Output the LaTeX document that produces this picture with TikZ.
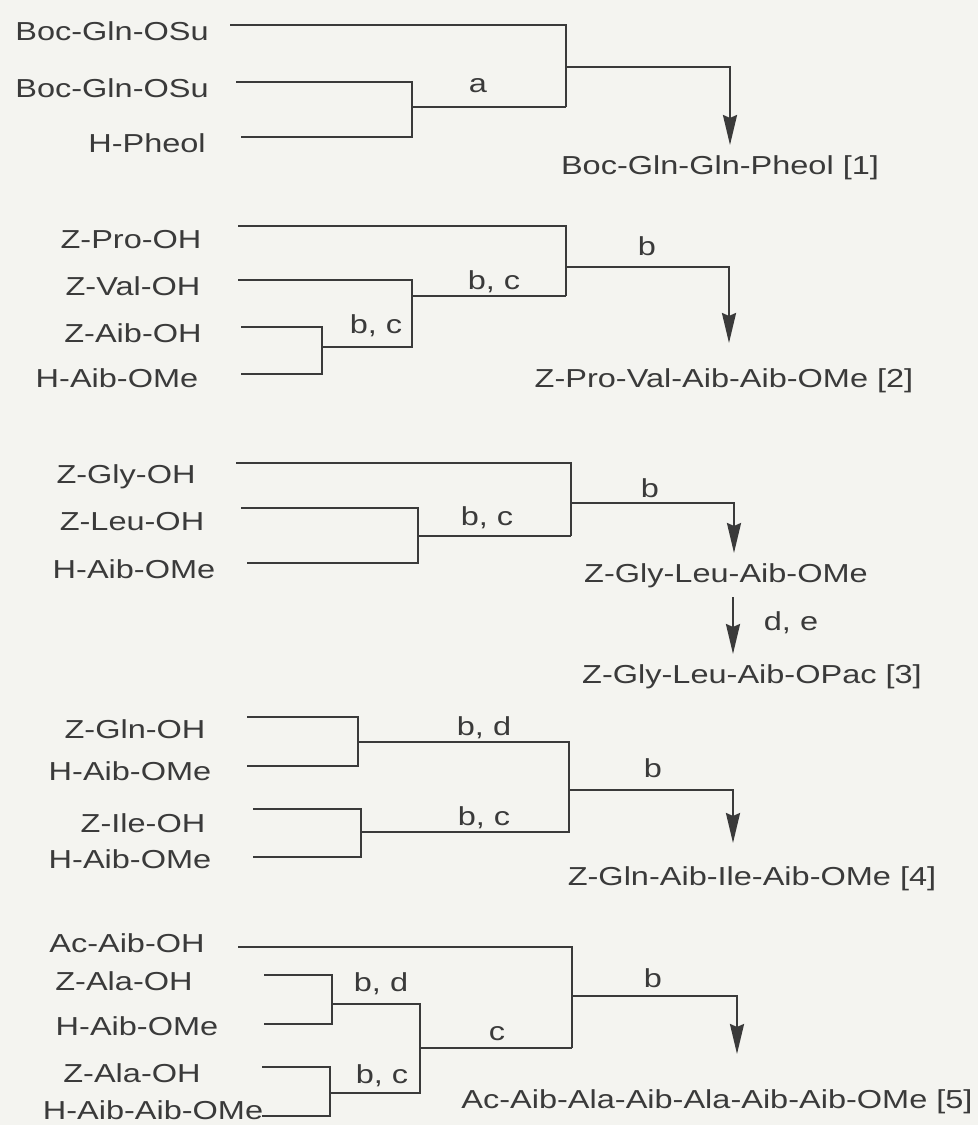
\documentclass[tikz,border=0pt]{standalone}
\usepackage{fontspec}
\setmainfont{Liberation Sans}[FakeStretch=1.25]
\usetikzlibrary{arrows.meta}
\definecolor{bg}{RGB}{244,244,240}
\definecolor{ink}{RGB}{58,58,58}
\tikzset{
  txt/.style={inner sep=0pt, anchor=base, text=ink, font=\fontsize{26}{30}\selectfont},
  lbl/.style={txt},
  ln/.style={draw=ink, line width=2.4pt},
  arr/.style={ln, -{Stealth[length=30pt,width=14pt,inset=3pt]}}
}
\begin{document}
\begin{tikzpicture}[x=1pt,y=-1pt]
\fill[bg] (0,0) rectangle (978,1125);
\useasboundingbox (0,0) rectangle (978,1125);

% ---------- block 1 ----------
\node[txt] (r11) at (112,40) {Boc-Gln-OSu};
\node[txt] (r12) at (112,97) {Boc-Gln-OSu};
\node[txt] (r13) at (147,152) {H-Pheol};
\node[txt] (p1) at (720,174) {Boc-Gln-Gln-Pheol [1]};
\node[lbl] (la1) at (478,92) {a};
\coordinate (s11) at (230,25);
\coordinate (s12) at (236,82);
\coordinate (s13) at (241,137);
\coordinate (j11) at (412,107);
\coordinate (k1) at (566,107);
\coordinate (b1) at (566,67);
\coordinate (t1) at (730,145);
\draw[ln] (s12) -| (j11) |- (s13);
\draw[ln] (j11) -- (k1);
\draw[ln] (s11) -| (k1);
\draw[arr] (b1) -| (t1);

% ---------- block 2 ----------
\node[txt] (r21) at (131,248) {Z-Pro-OH};
\node[txt] (r22) at (133,295) {Z-Val-OH};
\node[txt] (r23) at (133,342) {Z-Aib-OH};
\node[txt] (r24) at (117,387) {H-Aib-OMe};
\node[txt] (p2) at (724,387) {Z-Pro-Val-Aib-Aib-OMe [2]};
\node[lbl] (lb2) at (647,255) {b};
\node[lbl] (lbc2a) at (494,289) {b, c};
\node[lbl] (lbc2b) at (376,333) {b, c};
\coordinate (s21) at (238,226);
\coordinate (s22) at (238,280);
\coordinate (s23) at (241,327);
\coordinate (s24) at (241,374);
\coordinate (j21) at (322,347);
\coordinate (j22) at (412,296);
\coordinate (k2) at (566,296);
\coordinate (b2) at (566,267);
\coordinate (t2) at (729,343);
\draw[ln] (s23) -| (j21) |- (s24);
\draw[ln] (j21) -| (j22);
\draw[ln] (s22) -| (j22);
\draw[ln] (j22) -- (k2);
\draw[ln] (s21) -| (k2);
\draw[arr] (b2) -| (t2);

% ---------- block 3 ----------
\node[txt] (r31) at (126,483) {Z-Gly-OH};
\node[txt] (r32) at (132,530) {Z-Leu-OH};
\node[txt] (r33) at (134,578) {H-Aib-OMe};
\node[txt] (p3a) at (726,582) {Z-Gly-Leu-Aib-OMe};
\node[txt] (p3) at (752,683) {Z-Gly-Leu-Aib-OPac [3]};
\node[lbl] (lb3) at (650,497) {b};
\node[lbl] (lbc3) at (487,525) {b, c};
\node[lbl] (lde3) at (791,630) {d, e};
\coordinate (s31) at (236,463);
\coordinate (s32) at (241,508);
\coordinate (s33) at (247,563);
\coordinate (j31) at (418,536);
\coordinate (k3) at (571,536);
\coordinate (b3) at (571,503);
\coordinate (t3) at (734,553);
\coordinate (d3s) at (733,597);
\coordinate (d3t) at (733,654);
\draw[ln] (s32) -| (j31) |- (s33);
\draw[ln] (j31) -- (k3);
\draw[ln] (s31) -| (k3);
\draw[arr] (b3) -| (t3);
\draw[arr] (d3s) -- (d3t);

% ---------- block 4 ----------
\node[txt] (r41) at (135,738) {Z-Gln-OH};
\node[txt] (r42) at (130,780) {H-Aib-OMe};
\node[txt] (r43) at (143,832) {Z-Ile-OH};
\node[txt] (r44) at (130,868) {H-Aib-OMe};
\node[txt] (p4) at (752,885) {Z-Gln-Aib-Ile-Aib-OMe [4]};
\node[lbl] (lbd4) at (484,735) {b, d};
\node[lbl] (lb4) at (653,777) {b};
\node[lbl] (lbc4) at (484,825) {b, c};
\coordinate (s41) at (247,717);
\coordinate (s42) at (247,766);
\coordinate (s43) at (253,809);
\coordinate (s44) at (253,857);
\coordinate (j41) at (358,742);
\coordinate (j42) at (361,832);
\coordinate (k41) at (569,742);
\coordinate (k42) at (569,832);
\coordinate (b4) at (569,790);
\coordinate (t4) at (733,843);
\draw[ln] (s41) -| (j41) |- (s42);
\draw[ln] (s43) -| (j42) |- (s44);
\draw[ln] (j41) -- (k41) -- (k42) -- (j42);
\draw[arr] (b4) -| (t4);

% ---------- block 5 ----------
\node[txt] (r51) at (127,952) {Ac-Aib-OH};
\node[txt] (r52) at (124,990) {Z-Ala-OH};
\node[txt] (r53) at (137,1035) {H-Aib-OMe};
\node[txt] (r54) at (132,1082) {Z-Ala-OH};
\node[txt] (r55) at (153,1119) {H-Aib-Aib-OMe};
\node[txt] (p5) at (717,1108) {Ac-Aib-Ala-Aib-Ala-Aib-Aib-OMe [5]};
\node[lbl] (lbd5) at (381,991) {b, d};
\node[lbl] (lb5) at (653,987) {b};
\node[lbl] (lc5) at (497,1040) {c};
\node[lbl] (lbc5) at (382,1083) {b, c};
\coordinate (s51) at (238,947);
\coordinate (s52) at (264,975);
\coordinate (s53) at (264,1024);
\coordinate (s54) at (262,1067);
\coordinate (s55) at (262,1116);
\coordinate (j51) at (332,1004);
\coordinate (j52) at (330,1093);
\coordinate (c51) at (420,1004);
\coordinate (c52) at (420,1093);
\coordinate (j53) at (420,1048);
\coordinate (k5) at (572,1048);
\coordinate (b5) at (572,996);
\coordinate (t5) at (737,1054);
\draw[ln] (s52) -| (j51) |- (s53);
\draw[ln] (s54) -| (j52) |- (s55);
\draw[ln] (j51) -- (c51) -- (c52) -- (j52);
\draw[ln] (j53) -- (k5);
\draw[ln] (s51) -| (k5);
\draw[arr] (b5) -| (t5);
\end{tikzpicture}
\end{document}
